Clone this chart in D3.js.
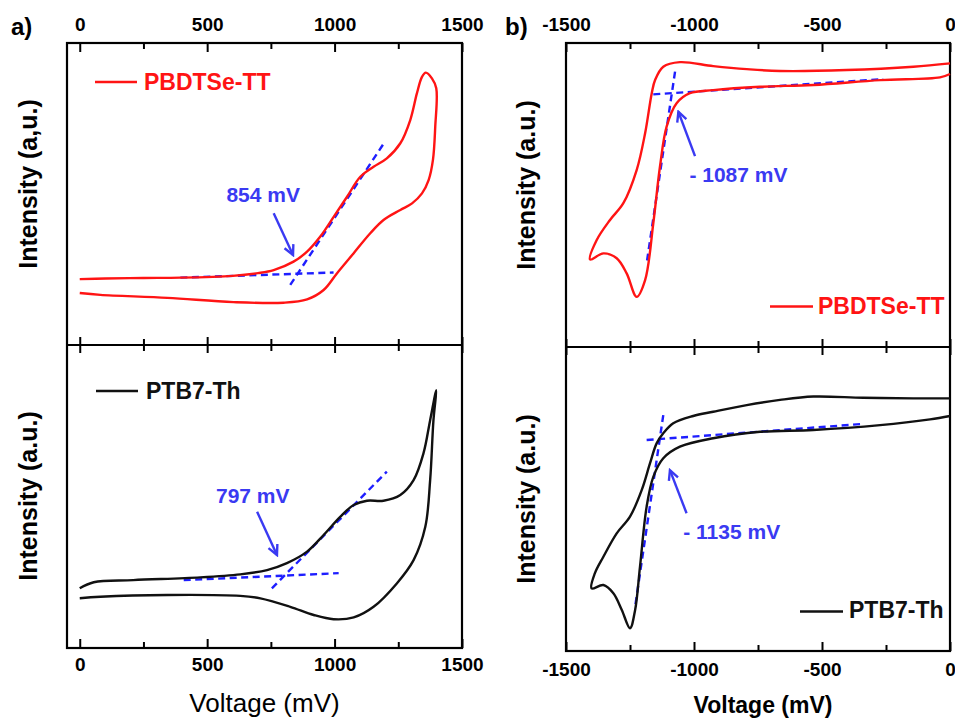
<!DOCTYPE html>
<html><head><meta charset="utf-8">
<script src="https://cdn.jsdelivr.net/npm/d3@7"></script>
<style>
html,body{margin:0;padding:0;background:#fff;}
svg{display:block;}
text{font-family:Arial,"Liberation Sans",sans-serif;}
</style></head>
<body>
<svg id="chart" width="955" height="718"></svg>
<script>
// ---------- DATA ----------
const leftMajorTicks = [0, 500, 1000, 1500];
const leftMinorTicks = [250, 750, 1250];
const rightMajorTicks = [-1500, -1000, -500, 0];
const rightMinorTicks = [-1250, -750, -250];

// a) oxidation, PBDTSe-TT (voltage mV, intensity a.u.)
const oxPbdtV = [0, 100, 250, 395, 600, 700, 761, 839, 892, 944, 997, 1049, 1101, 1153, 1205, 1258, 1297, 1323, 1343, 1358, 1382, 1399, 1395, 1386, 1369, 1343, 1304, 1258, 1192, 1140, 1075, 1009, 957, 892, 800, 603, 344, 81, 0];
const oxPbdtI = [21.8, 22.0, 22.2, 22.3, 22.9, 23.8, 24.8, 27.6, 30.9, 35.9, 42.5, 49.1, 55.7, 59.0, 61.8, 66.8, 74.5, 83.3, 88.8, 90.2, 88.3, 85.0, 72.3, 61.3, 54.6, 50.2, 46.9, 44.7, 41.4, 37.0, 30.4, 23.7, 18.2, 15.1, 14.0, 14.2, 15.6, 16.6, 17.2];
// a) oxidation, PTB7-Th
const oxPtbV = [0, 55, 210, 473, 630, 735, 813, 892, 957, 1022, 1075, 1127, 1192, 1258, 1310, 1349, 1375, 1399, 1388, 1375, 1356, 1310, 1245, 1153, 1075, 996, 918, 826, 709, 630, 343, 81, 0];
const oxPtbI = [19.7, 21.7, 22.4, 23.3, 24.3, 25.7, 28.0, 31.8, 37.3, 43.3, 47.2, 48.6, 48.6, 50.5, 55.4, 64.3, 75.2, 85.1, 75.2, 55.4, 40.0, 29.0, 21.4, 13.6, 10.1, 9.5, 10.9, 13.6, 16.4, 17.2, 17.5, 16.9, 16.4];
// b) reduction, PBDTSe-TT
const redPbdtV = [0, -143, -404, -664, -794, -925, -1055, -1120, -1152, -1165, -1191, -1224, -1276, -1328, -1380, -1406, -1354, -1302, -1263, -1224, -1191, -1159, -1133, -1107, -1068, -1016, -925, -742, -534, -273, -39, 0];
const redPbdtI = [93.3, 92.2, 91.1, 90.8, 91.4, 92.4, 93.7, 92.2, 87.8, 83.5, 70.3, 58.2, 47.3, 41.8, 35.2, 28.8, 30.8, 29.2, 24.2, 16.5, 22.0, 40.7, 59.3, 72.5, 80.2, 83.5, 84.5, 85.6, 86.2, 87.8, 88.7, 89.8];
// b) reduction, PTB7-Th
const redPtbV = [0, -143, -339, -534, -664, -794, -925, -1003, -1081, -1120, -1146, -1172, -1204, -1250, -1302, -1354, -1387, -1400, -1354, -1315, -1282, -1250, -1230, -1211, -1185, -1159, -1120, -1055, -925, -742, -534, -273, -78, 0];
const redPtbI = [83.1, 83.1, 83.3, 83.7, 82.6, 80.9, 78.7, 77.3, 74.9, 71.6, 68.3, 61.7, 53.0, 44.2, 38.7, 31.0, 25.6, 20.6, 21.7, 19.0, 13.5, 7.5, 13.5, 27.7, 47.5, 57.3, 63.4, 67.2, 70.0, 72.1, 72.7, 74.3, 76.2, 77.3];

// onset tangent lines [[v1,i1],[v2,i2]]
const oxPbdtBase = [[395, 22.3], [996, 24.0]];
const oxPbdtTangent = [[826, 19.9], [1192, 66.6]];
const oxPtbBase = [[408, 22.4], [1016, 24.7]];
const oxPtbTangent = [[754, 19.7], [1205, 58.2]];
const redPbdtBase = [[-1159, 83.1], [-261, 88.1]];
const redPbdtTangent = [[-1074, 90.6], [-1185, 27.5]];
const redPtbBase = [[-1185, 69.4], [-339, 74.7]];
const redPtbTangent = [[-1120, 77.6], [-1230, 14.6]];

// arrows [from, to]
const oxPbdtArrow = [[761, 43.6], [837, 29.8]];
const oxPtbArrow = [[696, 45.0], [774, 30.7]];
const redPbdtArrow = [[-996, 62.8], [-1061, 77.4]];
const redPtbArrow = [[-1029, 45.3], [-1094, 59.5]];

// onset labels
const onsetLabels = ["854 mV", "797 mV", "- 1087 mV", "- 1135 mV"];
const onsetLabelPos = [[720, 47.3], [679, 48.0], [-1018, 54.4], [-1042, 36.8]];

const seriesNames = ["PBDTSe-TT", "PTB7-Th"];
const seriesColors = ["#ff1414", "#111111"];

// ---------- LAYOUT ----------
const svg = d3.select("#chart");
const blue = "#1e1eff", blueText = "#3a3af2";
const FONT = 'Arial,"Liberation Sans",sans-serif';
const fmtTick = v => String(v); // plain hyphen-minus like the original

const xLeft = d3.scaleLinear().domain([-50, 1500]).range([67, 462]);
const xRight = d3.scaleLinear().domain([-1500, 0]).range([566, 950]);
const yTL = d3.scaleLinear().domain([0, 100]).range([345, 43]);
const yBL = d3.scaleLinear().domain([0, 100]).range([648, 345]);
const yTR = d3.scaleLinear().domain([0, 100]).range([347, 43]);
const yBR = d3.scaleLinear().domain([0, 100]).range([651, 347]);

const defs = svg.append("defs");
defs.append("marker").attr("id", "arrowhead")
  .attr("viewBox", "0 0 12 12").attr("refX", 10).attr("refY", 6)
  .attr("markerWidth", 13).attr("markerHeight", 13)
  .attr("markerUnits", "userSpaceOnUse").attr("orient", "auto")
  .append("path").attr("d", "M1,1.5 L10,6 L1,10.5")
  .attr("fill", "none").attr("stroke", blueText).attr("stroke-width", 2.2);

function styleAxis(g, fs, weight) {
  g.select(".domain").remove();
  g.selectAll(".tick line").attr("stroke", "#000").attr("stroke-width", 2);
  g.selectAll(".tick text").attr("fill", "#000").style("font-family", FONT)
    .style("font-size", fs + "px").style("font-weight", weight);
}

function edgeAxis(x, yPos, orient, majors, minors, showLabels, pad) {
  const mk = orient === "top" ? d3.axisTop : d3.axisBottom;
  const gMaj = svg.append("g").attr("transform", `translate(0,${yPos})`)
    .call(mk(x).tickValues(majors).tickSize(-9).tickPadding(pad)
      .tickFormat(showLabels ? fmtTick : () => ""));
  styleAxis(gMaj, 19, "bold");
  const gMin = svg.append("g").attr("transform", `translate(0,${yPos})`)
    .call(mk(x).tickValues(minors).tickSize(-6).tickFormat(() => ""));
  styleAxis(gMin, 19, "bold");
}
function dividerAxis(x, yPos, majors, minors) {
  [d3.axisTop, d3.axisBottom].forEach(mk => {
    const g1 = svg.append("g").attr("transform", `translate(0,${yPos})`)
      .call(mk(x).tickValues(majors).tickSize(-8).tickFormat(() => ""));
    styleAxis(g1, 19, "bold");
    const g2 = svg.append("g").attr("transform", `translate(0,${yPos})`)
      .call(mk(x).tickValues(minors).tickSize(-6).tickFormat(() => ""));
    styleAxis(g2, 19, "bold");
  });
}

function frame(x, yTop, yBot) {
  const [x0, x1] = x.range();
  const t = yTop.range()[1], m = yTop.range()[0], b = yBot.range()[0];
  svg.append("rect").attr("x", x0).attr("y", t).attr("width", x1 - x0).attr("height", b - t)
    .attr("fill", "none").attr("stroke", "#000").attr("stroke-width", 2.2);
  svg.append("line").attr("x1", x0).attr("x2", x1).attr("y1", m).attr("y2", m)
    .attr("stroke", "#000").attr("stroke-width", 2.2);
}

function curve(x, y, vs, is, color) {
  const pts = vs.map((v, k) => [v, is[k]]);
  const line = d3.line().x(d => x(d[0])).y(d => y(d[1])).curve(d3.curveCatmullRom.alpha(0.5));
  svg.append("path").attr("d", line(pts)).attr("fill", "none")
    .attr("stroke", color).attr("stroke-width", 2.4).attr("stroke-linejoin", "round");
}
function dashed(x, y, seg) {
  svg.append("line").attr("x1", x(seg[0][0])).attr("y1", y(seg[0][1]))
    .attr("x2", x(seg[1][0])).attr("y2", y(seg[1][1]))
    .attr("stroke", blue).attr("stroke-width", 2.4).attr("stroke-dasharray", "7,4.5");
}
function arrow(x, y, seg) {
  svg.append("line").attr("x1", x(seg[0][0])).attr("y1", y(seg[0][1]))
    .attr("x2", x(seg[1][0])).attr("y2", y(seg[1][1]))
    .attr("stroke", blueText).attr("stroke-width", 2.4).attr("marker-end", "url(#arrowhead)");
}
function onset(x, y, k, anchor) {
  svg.append("text").attr("x", x(onsetLabelPos[k][0])).attr("y", y(onsetLabelPos[k][1]))
    .attr("text-anchor", anchor).attr("fill", blueText)
    .style("font-size", "21px").style("font-weight", "bold").text(onsetLabels[k]);
}
function legend(lx0, lx1, ly, tx, tBase, k) {
  svg.append("line").attr("x1", lx0).attr("x2", lx1).attr("y1", ly).attr("y2", ly)
    .attr("stroke", seriesColors[k]).attr("stroke-width", 2.4);
  svg.append("text").attr("x", tx).attr("y", tBase).attr("fill", seriesColors[k])
    .style("font-size", "23px").style("font-weight", "bold").text(seriesNames[k]);
}
function yTitle(cx, cy, txt) {
  svg.append("text").attr("transform", `translate(${cx},${cy}) rotate(-90)`)
    .attr("text-anchor", "middle").attr("fill", "#000")
    .style("font-size", "25px").style("font-weight", "bold").text(txt);
}

// ---------- PANEL a) ----------
frame(xLeft, yTL, yBL);
edgeAxis(xLeft, 43, "top", leftMajorTicks, leftMinorTicks, true, 12);
edgeAxis(xLeft, 648, "bottom", leftMajorTicks, leftMinorTicks, true, 10);
dividerAxis(xLeft, 345, leftMajorTicks, leftMinorTicks);

dashed(xLeft, yTL, oxPbdtBase); dashed(xLeft, yTL, oxPbdtTangent);
curve(xLeft, yTL, oxPbdtV, oxPbdtI, seriesColors[0]);
dashed(xLeft, yBL, oxPtbBase); dashed(xLeft, yBL, oxPtbTangent);
curve(xLeft, yBL, oxPtbV, oxPtbI, seriesColors[1]);
arrow(xLeft, yTL, oxPbdtArrow); arrow(xLeft, yBL, oxPtbArrow);
onset(xLeft, yTL, 0, "middle"); onset(xLeft, yBL, 1, "middle");
legend(95, 137, 82, 144, 90, 0);
legend(96, 138, 391, 146, 398.5, 1);
yTitle(36.5, 184, "Intensity (a,u.)");
yTitle(36.5, 496, "Intensity (a.u.)");
svg.append("text").attr("x", 264.5).attr("y", 712).attr("text-anchor", "middle")
  .style("font-size", "26px").attr("fill", "#000").text("Voltage (mV)");
svg.append("text").attr("x", 11).attr("y", 35).style("font-size", "24px")
  .style("font-weight", "bold").text("a)");

// ---------- PANEL b) ----------
frame(xRight, yTR, yBR);
edgeAxis(xRight, 43, "top", rightMajorTicks, rightMinorTicks, true, 12);
edgeAxis(xRight, 651, "bottom", rightMajorTicks, rightMinorTicks, true, 12);
dividerAxis(xRight, 347, rightMajorTicks, rightMinorTicks);

dashed(xRight, yTR, redPbdtBase); dashed(xRight, yTR, redPbdtTangent);
curve(xRight, yTR, redPbdtV, redPbdtI, seriesColors[0]);
dashed(xRight, yBR, redPtbBase); dashed(xRight, yBR, redPtbTangent);
curve(xRight, yBR, redPtbV, redPtbI, seriesColors[1]);
arrow(xRight, yTR, redPbdtArrow); arrow(xRight, yBR, redPtbArrow);
onset(xRight, yTR, 2, "start"); onset(xRight, yBR, 3, "start");
legend(770, 813, 306.5, 818, 313.5, 0);
legend(800, 843, 611.5, 849, 617.5, 1);
yTitle(535, 185, "Intensity (a.u.)");
yTitle(535, 499, "Intensity (a.u.)");
svg.append("text").attr("x", 763).attr("y", 713).attr("text-anchor", "middle")
  .style("font-size", "23px").style("font-weight", "bold").attr("fill", "#000").text("Voltage (mV)");
svg.append("text").attr("x", 505).attr("y", 35).style("font-size", "24px")
  .style("font-weight", "bold").text("b)");
</script>
</body></html>
